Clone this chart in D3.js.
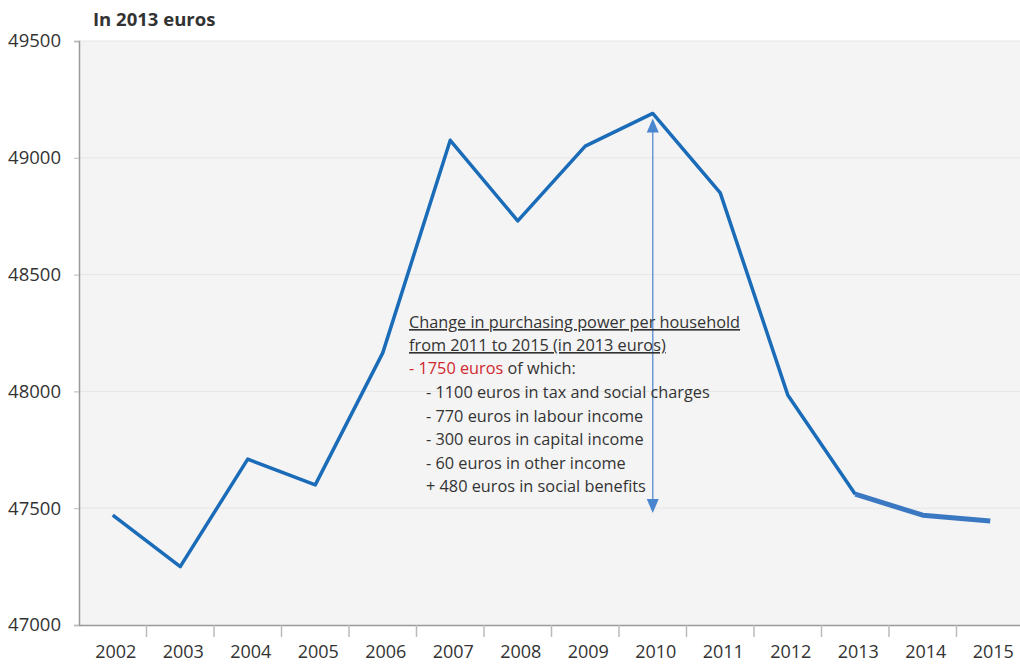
<!DOCTYPE html>
<meta charset="utf-8" />
<html>
<head>
<script src="https://d3js.org/d3.v7.min.js"></script>
<style>
  body { margin: 0; background: #fff; }
  text { font-family: "Open Sans", "Noto Sans", sans-serif; fill: #333; }
</style>
</head>
<body>
<script>
var years = ['2002','2003','2004','2005','2006','2007','2008','2009','2010','2011','2012','2013','2014','2015'];
var income = [47470, 47250, 47710, 47600, 48165, 49075, 48730, 49050, 49190, 48850, 47985, 47560, 47470, 47445];
var yTicks = [47000, 47500, 48000, 48500, 49000, 49500];
var noteLines = [
  'Change in purchasing power per household',
  'from 2011 to 2015 (in 2013 euros)'
];
var noteItems = [
  '- 1100 euros in tax and social charges',
  '- 770 euros in labour income',
  '- 300 euros in capital income',
  '- 60 euros in other income',
  '+ 480 euros in social benefits'
];

var width = 1020, height = 666;
var svg = d3.select('body').append('svg')
    .attr('width', width)
    .attr('height', height);

var x = d3.scaleBand()
    .domain(years)
    .range([79, 1024]);
var y = d3.scaleLinear()
    .domain([47000, 49500])
    .range([625, 41]);

// plot background
svg.append('rect')
    .attr('x', 79).attr('y', y(49500))
    .attr('width', 1024 - 79).attr('height', y(47000) - y(49500))
    .attr('fill', '#f4f4f4');

// gridlines
svg.append('g')
    .selectAll('line')
    .data(yTicks.slice(1))
    .enter()
    .append('line')
    .attr('x1', 79).attr('x2', 1024)
    .attr('y1', function(d) { return y(d); })
    .attr('y2', function(d) { return y(d); })
    .attr('stroke', '#e6e6e6')
    .attr('stroke-width', 1);

// y axis
var yAxis = svg.append('g')
    .attr('transform', 'translate(79,0)')
    .call(d3.axisLeft(y).tickValues(yTicks).tickSize(5).tickPadding(13).tickFormat(d3.format('d')));
yAxis.select('.domain').attr('stroke', '#999').attr('stroke-width', 1.5);
yAxis.selectAll('.tick line').attr('stroke', '#bbb');
yAxis.selectAll('text').style('font-size', '18.5px').attr('fill', '#333');

// x axis
var xAxis = svg.append('g')
    .attr('transform', 'translate(0,625)')
    .call(d3.axisBottom(x).tickSize(0).tickPadding(20));
xAxis.select('.domain').attr('stroke', '#999').attr('stroke-width', 1.5);
xAxis.selectAll('text').style('font-size', '18px').attr('fill', '#333').attr('dx', 3);
// ticks between categories
xAxis.selectAll('.sep')
    .data(years.slice(1))
    .enter()
    .append('line')
    .attr('class', 'sep')
    .attr('x1', function(d) { return x(d); })
    .attr('x2', function(d) { return x(d); })
    .attr('y1', 0).attr('y2', 12)
    .attr('stroke', '#bbb')
    .attr('stroke-width', 1.5);

// title
svg.append('text')
    .attr('x', 93).attr('y', 26)
    .style('font-size', '18.5px')
    .style('font-weight', 'bold')
    .text('In 2013 euros');

var pts = years.map(function(d, i) { return [x(d) + x.bandwidth() / 2, y(income[i])]; });
var line = d3.line();

svg.append('path')
    .attr('d', line(pts.slice(0, 12)))
    .attr('fill', 'none')
    .attr('stroke', '#1a6bb8')
    .attr('stroke-width', 3.5)
    .attr('stroke-linejoin', 'round');
svg.append('path')
    .attr('d', line(pts.slice(11)))
    .attr('fill', 'none')
    .attr('stroke', '#3a78c2')
    .attr('stroke-width', 5)
    .attr('stroke-linejoin', 'round');

// arrow 2010 -> 2015 level
var ax = x('2010') + x.bandwidth() / 2;
var yTop = y(income[8]) + 5;
var yBot = y(income[13]) - 8;
svg.append('line')
    .attr('x1', ax).attr('x2', ax)
    .attr('y1', yTop + 10).attr('y2', yBot - 10)
    .attr('stroke', '#6a9ad6')
    .attr('stroke-width', 1.5);
svg.append('path')
    .attr('d', 'M' + ax + ',' + yTop + 'L' + (ax - 6) + ',' + (yTop + 14) + 'L' + (ax + 6) + ',' + (yTop + 14) + 'Z')
    .attr('fill', '#4a86cf');
svg.append('path')
    .attr('d', 'M' + ax + ',' + yBot + 'L' + (ax - 6) + ',' + (yBot - 14) + 'L' + (ax + 6) + ',' + (yBot - 14) + 'Z')
    .attr('fill', '#4a86cf');

// annotation
var note = svg.append('g').style('font-size', '16.3px');
note.selectAll('.head')
    .data(noteLines)
    .enter()
    .append('text')
    .attr('class', 'head')
    .attr('x', 409)
    .attr('y', function(d, i) { return 328 + i * 23; })
    .style('text-decoration', 'underline')
    .text(function(d) { return d; });
var red = note.append('text').attr('x', 409).attr('y', 374);
red.append('tspan').style('fill', '#d0282e').text('- 1750 euros');
red.append('tspan').text(' of which:');
note.selectAll('.item')
    .data(noteItems)
    .enter()
    .append('text')
    .attr('class', 'item')
    .attr('x', 426)
    .attr('y', function(d, i) { return 398 + i * 23.5; })
    .text(function(d) { return d; });
</script>
</body>
</html>
